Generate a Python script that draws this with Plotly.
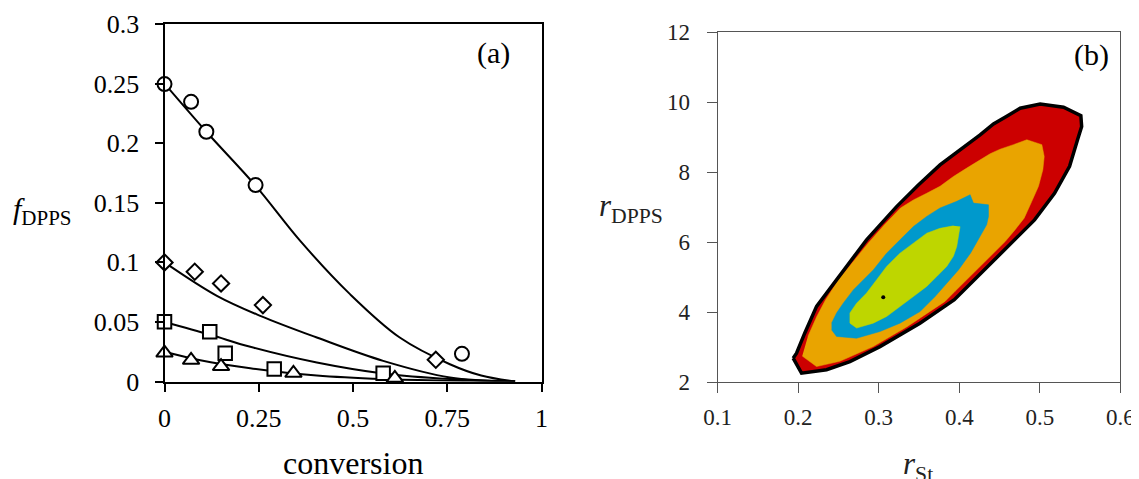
import plotly.graph_objects as go

# ---------------- Panel (a): composition drift ----------------
conv_circle = [0.0, 0.0705, 0.111, 0.2416, 0.789]
f_circle = [0.2496, 0.2347, 0.2096, 0.1648, 0.0232]
conv_diamond = [0.0, 0.0802, 0.150, 0.261, 0.7196]
f_diamond = [0.0999, 0.0921, 0.0823, 0.0641, 0.0182]
conv_square = [0.0, 0.120, 0.161, 0.291, 0.580]
f_square = [0.0501, 0.0417, 0.0238, 0.0104, 0.0070]
conv_triangle = [0.0, 0.0705, 0.150, 0.342, 0.611]
f_triangle = [0.024, 0.0179, 0.0126, 0.0070, 0.0028]

fit_circle_x = [0.0, 0.111, 0.242, 0.36, 0.492, 0.624, 0.757, 0.84, 0.93]
fit_circle_y = [0.25, 0.2096, 0.1642, 0.118, 0.0733, 0.0369, 0.0145, 0.005, 0.0]
fit_diamond_x = [0.0, 0.139, 0.254, 0.404, 0.58, 0.757, 0.93]
fit_diamond_y = [0.1, 0.0719, 0.0551, 0.0369, 0.0173, 0.0034, 0.0]
fit_square_x = [0.0, 0.1217, 0.2275, 0.404, 0.58, 0.757, 0.93]
fit_square_y = [0.05, 0.0392, 0.0291, 0.0159, 0.0067, 0.002, 0.0]
fit_tri_x = [0.0, 0.095, 0.2275, 0.404, 0.58, 0.757, 0.93]
fit_tri_y = [0.025, 0.0179, 0.0112, 0.005, 0.002, 0.0006, 0.0]

conv_ticks = [0, 0.25, 0.5, 0.75, 1]
conv_ticktext = ["0", "0.25", "0.5", "0.75", "1"]
f_ticks = [0, 0.05, 0.1, 0.15, 0.2, 0.25, 0.3]
f_ticktext = ["0", "0.05", "0.1", "0.15", "0.2", "0.25", "0.3"]

# ---------------- Panel (b): joint confidence regions ----------------
outer_rst = [0.1937, 0.2041, 0.2352, 0.2642, 0.3015, 0.3512, 0.3939, 0.4188, 0.4437,
             0.4686, 0.4935, 0.5183, 0.5370, 0.5469, 0.5520, 0.5510, 0.5295, 0.5005,
             0.4756, 0.4590, 0.4425, 0.4259, 0.4093, 0.3761, 0.3492, 0.3222, 0.2849,
             0.2476, 0.2228, 0.2082, 0.1979]
outer_rdpps = [2.69, 2.26, 2.36, 2.59, 3.02, 3.69, 4.36, 4.93, 5.50,
               6.07, 6.64, 7.40, 8.17, 8.93, 9.31, 9.62, 9.86, 9.95,
               9.83, 9.60, 9.38, 9.07, 8.79, 8.21, 7.64, 7.02, 6.07,
               4.95, 4.17, 3.41, 2.83]

orange_rst = [0.205, 0.2227, 0.2517, 0.2932, 0.3347, 0.3823, 0.3948, 0.4072, 0.4196,
              0.4321, 0.4445, 0.4570, 0.4694, 0.4806, 0.4901, 0.4984, 0.5038, 0.5055,
              0.5026, 0.4922, 0.4839, 0.4673, 0.4507, 0.4383, 0.4259, 0.4093, 0.3927,
              0.3761, 0.3595, 0.3430, 0.327, 0.307, 0.287, 0.268, 0.250, 0.234, 0.223, 0.212]
orange_rdpps = [2.75, 2.45, 2.60, 3.02, 3.58, 4.31, 4.60, 4.88, 5.17,
                5.45, 5.74, 6.02, 6.36, 6.69, 7.17, 7.60, 8.07, 8.45,
                8.79, 8.88, 8.93, 8.79, 8.66, 8.53, 8.36, 8.12, 7.88,
                7.60, 7.40, 7.21, 6.98, 6.50, 5.98, 5.45, 4.93, 4.36, 3.88, 3.31]

blue_rst = [0.2414, 0.2476, 0.2725, 0.3015, 0.3264, 0.3513, 0.3700, 0.3850, 0.3990,
            0.4140, 0.4260, 0.4340, 0.4363, 0.4363, 0.4176, 0.4135, 0.3969, 0.3761,
            0.3596, 0.3430, 0.3264, 0.3098, 0.2932, 0.2808, 0.2684, 0.2559, 0.2476, 0.2414]
blue_rdpps = [3.50, 3.31, 3.26, 3.45, 3.69, 4.02, 4.45, 4.83, 5.21,
              5.69, 6.17, 6.50, 6.74, 7.07, 7.12, 7.36, 7.17, 6.98,
              6.74, 6.45, 6.07, 5.69, 5.21, 4.93, 4.64, 4.26, 3.98, 3.69]

lime_rst = [0.4010, 0.3990, 0.3969, 0.3927, 0.3844, 0.3720, 0.3596, 0.3430, 0.3264,
            0.3098, 0.2932, 0.2725, 0.2642, 0.2642, 0.2725, 0.2849, 0.2974, 0.3098,
            0.3264, 0.3430, 0.3596, 0.3761, 0.3927]
lime_rdpps = [6.45, 6.17, 5.88, 5.60, 5.31, 5.02, 4.74, 4.45, 4.17,
              3.88, 3.69, 3.55, 3.69, 3.98, 4.26, 4.55, 4.93, 5.31,
              5.69, 5.98, 6.26, 6.40, 6.47]

best_rst = [0.3056]
best_rdpps = [4.43]

rst_ticks = [0.1, 0.2, 0.3, 0.4, 0.5, 0.6]
rst_ticktext = ["0.1", "0.2", "0.3", "0.4", "0.5", "0.6"]
rdpps_ticks = [2, 4, 6, 8, 10, 12]
rdpps_ticktext = ["2", "4", "6", "8", "10", "12"]

FONT = "Liberation Serif"
W, H = 1139, 479
OFF = 8  # the page body margin shifts the figure by 8 px


def fx(px):
    return (px - OFF) / W


def fy(py):
    return 1 - (py - OFF) / H


fig = go.Figure()

# fitted curves
for cxs, cys in [(fit_circle_x, fit_circle_y), (fit_diamond_x, fit_diamond_y),
                 (fit_square_x, fit_square_y), (fit_tri_x, fit_tri_y)]:
    fig.add_trace(go.Scatter(x=cxs, y=cys, mode="lines",
                             line=dict(color="black", width=2, shape="spline", smoothing=1.0),
                             xaxis="x", yaxis="y", showlegend=False, hoverinfo="skip", cliponaxis=False))

# markers
for cx, cy, sym, sz in [(conv_circle, f_circle, "circle", 14),
                        (conv_diamond, f_diamond, "diamond", 12.5),
                        (conv_square, f_square, "square", 13.5),
                        (conv_triangle, f_triangle, "triangle-up", 14.5)]:
    fig.add_trace(go.Scatter(x=cx, y=cy, mode="markers",
                             marker=dict(symbol=sym, size=sz, color="white",
                                         line=dict(color="black", width=2)),
                             xaxis="x", yaxis="y", showlegend=False, cliponaxis=False))

# confidence regions
for rx, ry, col in [(outer_rst, outer_rdpps, "#CC0000"), (orange_rst, orange_rdpps, "#E9A400"),
                    (blue_rst, blue_rdpps, "#0099CC"), (lime_rst, lime_rdpps, "#BED600")]:
    fig.add_trace(go.Scatter(x=rx, y=ry, mode="lines", fill="toself", fillcolor=col,
                             line=dict(color=col, width=0.5),
                             xaxis="x2", yaxis="y2", showlegend=False, hoverinfo="skip"))

fig.add_trace(go.Scatter(x=outer_rst + outer_rst[:1], y=outer_rdpps + outer_rdpps[:1], mode="lines",
                         line=dict(color="black", width=3.5),
                         xaxis="x2", yaxis="y2", showlegend=False, hoverinfo="skip"))
fig.add_trace(go.Scatter(x=best_rst, y=best_rdpps, mode="markers", marker=dict(color="black", size=4),
                         xaxis="x2", yaxis="y2", showlegend=False))

axL = dict(showline=True, linecolor="black", linewidth=2, mirror=True, ticks="outside", ticklen=8,
           tickwidth=2, tickcolor="black", showgrid=False, zeroline=False, automargin=False,
           tickfont=dict(family=FONT, size=26, color="black"))
axR = dict(showline=True, linecolor="#555555", linewidth=1.3, mirror=True, ticks="outside", ticklen=10,
           tickwidth=1.3, tickcolor="#555555", showgrid=False, zeroline=False, automargin=False,
           tickfont=dict(family=FONT, size=23, color="#222222"))


def ann(text, px, py, size, xanchor="center", color="black"):
    return dict(text=text, x=fx(px), y=fy(py), xref="paper", yref="paper", showarrow=False,
                xanchor=xanchor, yanchor="middle", font=dict(family=FONT, size=size, color=color))


fig.update_layout(
    width=W, height=H, margin=dict(l=0, r=0, t=0, b=0, autoexpand=False),
    paper_bgcolor="white", plot_bgcolor="white",
    xaxis=dict(axL, domain=[fx(164.5), fx(541.5)], range=[0, 1], tickvals=conv_ticks, ticktext=conv_ticktext,
               anchor="y", ticklabelstandoff=4),
    yaxis=dict(axL, domain=[fy(381.5), fy(24)], range=[0, 0.3], tickvals=f_ticks, ticktext=f_ticktext,
               anchor="x", ticklabelstandoff=10),
    xaxis2=dict(axR, domain=[fx(717.7), fx(1120.3)], range=[0.1, 0.6], tickvals=rst_ticks, ticktext=rst_ticktext,
                anchor="y2", ticklabelstandoff=4),
    yaxis2=dict(axR, domain=[fy(382.3), fy(32.3)], range=[2, 12], tickvals=rdpps_ticks,
                ticktext=rdpps_ticktext, anchor="x2", ticklabelstandoff=12),
    annotations=[
        ann("(a)", 493, 53, 30),
        ann("(b)", 1091.7, 55, 30),
        ann("conversion", 353, 463, 32),
        ann("<i>f</i><sub>DPPS</sub>", 11, 211, 30, xanchor="left"),
        ann("<i>r</i><sub>DPPS</sub>", 597, 208, 31, xanchor="left", color="#222222"),
        ann("<i>r</i><sub>St</sub>", 918, 466, 31, color="#222222"),
    ],
)

fig.write_html("out.html")
